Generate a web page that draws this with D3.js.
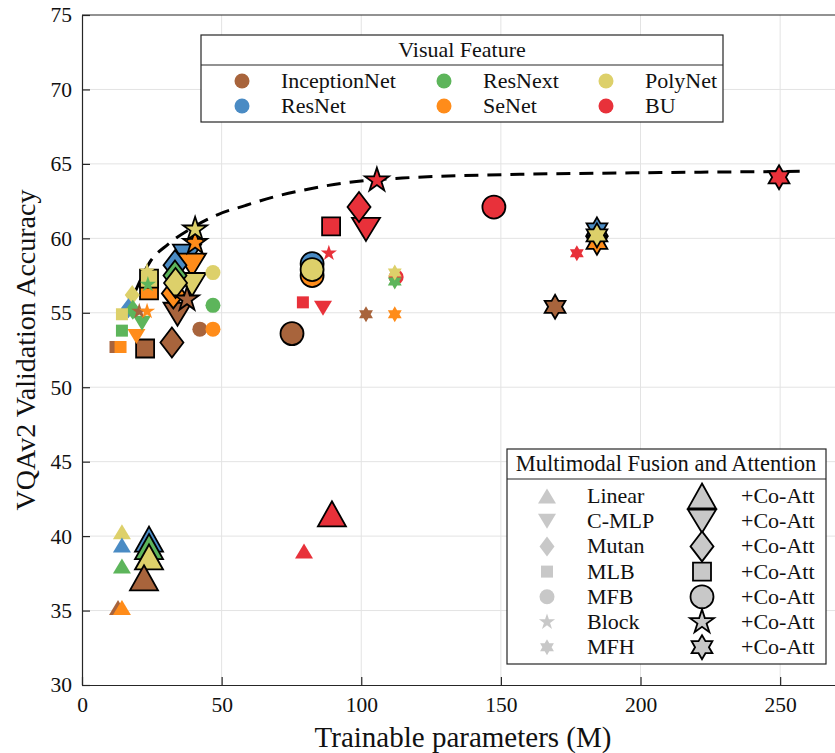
<!DOCTYPE html>
<html>
<head>
<meta charset="utf-8">
<script src="https://cdn.jsdelivr.net/npm/d3@7"></script>
<style>
  body { margin: 0; background: #fff; }
  svg text { font-family: "Liberation Serif", "Times New Roman", serif; fill: #111; }
</style>
</head>
<body>
<div id="chart"></div>
<script>
const WIDTH = 835, HEIGHT = 753;

const features = ["InceptionNet", "ResNet", "ResNext", "SeNet", "PolyNet", "BU"];
const featureColors = ["#A8643C", "#4A8BC4", "#5DB55B", "#FF8C1A", "#DDD06A", "#E8313A"];
const fusions = ["Linear", "C-MLP", "Mutan", "MLB", "MFB", "Block", "MFH"];

const xTicks = [0, 50, 100, 150, 200, 250];
const yTicks = [30, 35, 40, 45, 50, 55, 60, 65, 70, 75];

// [feature, trainable params (M), accuracy, co-attention]
const linear = [
  ["ResNet", 24, 39.8, 1], ["ResNext", 24, 39.3, 1], ["PolyNet", 24, 38.6, 1],
  ["InceptionNet", 22.2, 37.2, 1], ["BU", 89.5, 41.5, 1],
  ["PolyNet", 14.3, 40.3, 0], ["ResNet", 14.3, 39.4, 0], ["ResNext", 14.3, 38.0, 0],
  ["InceptionNet", 12.9, 35.2, 0], ["SeNet", 14.3, 35.2, 0], ["BU", 79.5, 39.0, 0]
];
const cmlp = [
  ["ResNet", 37.6, 58.8, 1], ["SeNet", 39.4, 58.2, 1], ["PolyNet", 39.4, 56.9, 1],
  ["InceptionNet", 34.2, 54.9, 1], ["BU", 101.7, 60.6, 1],
  ["SeNet", 19.5, 53.4, 0], ["ResNext", 21.5, 54.3, 0], ["BU", 86.3, 55.3, 0]
];
const mutan = [
  ["ResNet", 33.3, 58.2, 1], ["ResNext", 33.3, 57.5, 1], ["SeNet", 32.7, 56.3, 1],
  ["PolyNet", 33.5, 57.0, 1], ["InceptionNet", 32.2, 53.0, 1], ["BU", 99.2, 62.1, 1],
  ["PolyNet", 18.0, 56.2, 0], ["ResNet", 16.6, 55.3, 0], ["ResNext", 18.2, 55.2, 0]
];
const mlb = [
  ["SeNet", 24, 56.5, 1], ["PolyNet", 24, 57.3, 1],
  ["InceptionNet", 22.6, 52.6, 1], ["BU", 89.2, 60.8, 1],
  ["PolyNet", 14.3, 54.9, 0], ["ResNext", 14.3, 53.8, 0], ["InceptionNet", 12.0, 52.7, 0],
  ["SeNet", 13.8, 52.7, 0], ["BU", 79.1, 55.7, 0]
];
const mfb = [
  ["ResNet", 82.4, 58.3, 1], ["SeNet", 82.4, 57.5, 1], ["PolyNet", 82.4, 57.9, 1],
  ["InceptionNet", 75.2, 53.6, 1], ["BU", 147.5, 62.1, 1],
  ["PolyNet", 46.9, 57.7, 0], ["ResNext", 46.9, 55.5, 0], ["InceptionNet", 42.2, 53.9, 0],
  ["SeNet", 46.9, 53.9, 0], ["BU", 112.5, 57.4, 0]
];
const block = [
  ["BU", 105.6, 63.9, 1], ["SeNet", 40.5, 59.7, 1], ["PolyNet", 40.5, 60.6, 1],
  ["InceptionNet", 37.6, 55.9, 1],
  ["InceptionNet", 20.5, 55.1, 0], ["SeNet", 23.3, 55.1, 0], ["PolyNet", 23.3, 57.8, 0],
  ["ResNext", 23.6, 56.9, 0], ["BU", 88.4, 59.0, 0]
];
const mfh = [
  ["BU", 249.6, 64.1, 1], ["InceptionNet", 169.4, 55.4, 1], ["ResNet", 184.4, 60.6, 1],
  ["SeNet", 184.4, 59.7, 1], ["PolyNet", 184.4, 60.2, 1],
  ["InceptionNet", 101.7, 54.9, 0], ["SeNet", 112, 54.9, 0], ["ResNext", 112, 57.1, 0],
  ["PolyNet", 112, 57.7, 0], ["BU", 177.2, 59.0, 0]
];
const fusionData = [linear, cmlp, mutan, mlb, mfb, block, mfh];

// dashed trend
const trendParams = [19, 24.3, 30.8, 39.4, 48.7, 58.4, 69.1, 80.9, 93.1, 102.4, 114.6, 156.8, 198.7, 257];
const trendAcc = [56.4, 58.4, 59.6, 60.7, 61.6, 62.2, 62.8, 63.3, 63.7, 63.9, 64.05, 64.3, 64.4, 64.5];

// marker outlines, centred on 0,0
function starPath(R, r, n) {
  let p = [];
  for (let i = 0; i < 2 * n; i++) {
    const a = -Math.PI / 2 + i * Math.PI / n;
    const rad = i % 2 ? r : R;
    p.push([rad * Math.cos(a), rad * Math.sin(a)]);
  }
  return "M" + p.map(d => d.join(",")).join("L") + "Z";
}
function markerPath(fusion, big) {
  switch (fusion) {
    case "Linear": { const w = big ? 28 : 18, h = big ? 25 : 15;
      return `M0,${-h / 2}L${w / 2},${h / 2}L${-w / 2},${h / 2}Z`; }
    case "C-MLP": { const w = big ? 28 : 18, h = big ? 23 : 15;
      return `M0,${h / 2}L${w / 2},${-h / 2}L${-w / 2},${-h / 2}Z`; }
    case "Mutan": { const w = big ? 23 : 15, h = big ? 30 : 20;
      return `M0,${-h / 2}L${w / 2},0L0,${h / 2}L${-w / 2},0Z`; }
    case "MLB": { const s = big ? 9 : 6;
      return `M${-s},${-s}H${s}V${s}H${-s}Z`; }
    case "MFB": { const r = big ? 11.5 : 7.5;
      return `M${r},0A${r},${r} 0 1,1 ${-r},0A${r},${r} 0 1,1 ${r},0Z`; }
    case "Block": { const R = big ? 12.6 : 8.5; return starPath(R, R * 0.382, 5); }
    case "MFH": { const R = big ? 12 : 8; return starPath(R, R * 0.577, 6); }
  }
}

const svg = d3.select("#chart").append("svg")
  .attr("width", WIDTH).attr("height", HEIGHT);

const x = d3.scaleLinear().domain([0, 270]).range([82, 836]);
const y = d3.scaleLinear().domain([30, 75]).range([685, 15]);
const color = d3.scaleOrdinal().domain(features).range(featureColors);

// grid
svg.append("g").selectAll("line").data(xTicks.slice(1)).enter().append("line")
  .attr("x1", d => x(d)).attr("x2", d => x(d)).attr("y1", 15).attr("y2", 685)
  .attr("stroke", "#e3e3e3").attr("stroke-width", 1);
svg.append("g").selectAll("line").data(yTicks.slice(1, -1)).enter().append("line")
  .attr("x1", 82).attr("x2", 836).attr("y1", d => y(d)).attr("y2", d => y(d))
  .attr("stroke", "#e3e3e3").attr("stroke-width", 1);

// axes
const yAxis = svg.append("g").attr("transform", "translate(82,0)")
  .call(d3.axisLeft(y).tickValues(yTicks).tickSizeInner(-8).tickSizeOuter(0).tickPadding(10));
const xAxis = svg.append("g").attr("transform", "translate(0,685)")
  .call(d3.axisBottom(x).tickValues(xTicks).tickSizeInner(-8).tickSizeOuter(0).tickPadding(12));
[yAxis, xAxis].forEach(a => {
  a.selectAll("path, line").attr("stroke", "#262626").attr("stroke-width", 1.2);
  a.selectAll("text").attr("font-size", 21.5).attr("font-family", "Liberation Serif").attr("fill", "#111");
});
svg.append("line").attr("x1", 82).attr("x2", 836).attr("y1", 15).attr("y2", 15)
  .attr("stroke", "#262626").attr("stroke-width", 1.2);

svg.append("text").attr("x", 463).attr("y", 747).attr("text-anchor", "middle")
  .attr("font-size", 29).text("Trainable parameters (M)");
svg.append("text").attr("transform", "translate(35,350) rotate(-90)").attr("text-anchor", "middle")
  .attr("font-size", 28).text("VQAv2 Validation Accuracy");

// trend
const line = d3.line().x(d => x(d[0])).y(d => y(d[1])).curve(d3.curveMonotoneX);
svg.append("path").datum(trendParams.map((p, i) => [p, trendAcc[i]]))
  .attr("d", line).attr("fill", "none").attr("stroke", "#000")
  .attr("stroke-width", 3).attr("stroke-dasharray", "14,9");

// markers: co-attention (big) first, then plain ones
const all = [];
fusionData.forEach((arr, fi) => arr.forEach(d => all.push({ fusion: fusions[fi], feature: d[0], p: d[1], acc: d[2], co: d[3] })));
const ordered = all.filter(d => d.co).concat(all.filter(d => !d.co));
svg.append("g").selectAll("path").data(ordered).enter().append("path")
  .attr("transform", d => `translate(${x(d.p)},${y(d.acc)})`)
  .attr("d", d => markerPath(d.fusion, d.co))
  .attr("fill", d => color(d.feature))
  .attr("stroke", d => d.co ? "#000" : "none")
  .attr("stroke-width", 1.8).attr("stroke-linejoin", "miter");

// Visual Feature legend
const lg1 = svg.append("g");
lg1.append("rect").attr("x", 201).attr("y", 35).attr("width", 522).attr("height", 87)
  .attr("fill", "#fff").attr("stroke", "#262626").attr("stroke-width", 1.2);
lg1.append("line").attr("x1", 201).attr("x2", 723).attr("y1", 65).attr("y2", 65)
  .attr("stroke", "#262626").attr("stroke-width", 1.2);
lg1.append("text").attr("x", 462).attr("y", 57).attr("text-anchor", "middle")
  .attr("font-size", 22).text("Visual Feature");
const legendOrder = ["InceptionNet", "ResNext", "PolyNet", "ResNet", "SeNet", "BU"];
const colX = [242, 444, 606];
const lgItems = lg1.selectAll(".item").data(legendOrder).enter().append("g")
  .attr("transform", (d, i) => `translate(${colX[i % 3]},${i < 3 ? 81 : 106})`);
lgItems.append("circle").attr("r", 7.5).attr("fill", d => color(d));
lgItems.append("text").attr("x", 39).attr("y", 7).attr("font-size", 22).text(d => d);

// fusion legend
const lg2 = svg.append("g");
lg2.append("rect").attr("x", 507).attr("y", 449).attr("width", 319).attr("height", 215)
  .attr("fill", "#fff").attr("stroke", "#262626").attr("stroke-width", 1.2);
lg2.append("line").attr("x1", 507).attr("x2", 826).attr("y1", 479).attr("y2", 479)
  .attr("stroke", "#262626").attr("stroke-width", 1.2);
lg2.append("text").attr("x", 666).attr("y", 471).attr("text-anchor", "middle")
  .attr("font-size", 22.5).text("Multimodal Fusion and Attention");
const rows = lg2.selectAll(".row").data(fusions).enter().append("g")
  .attr("transform", (d, i) => `translate(0,${496 + i * 25.2})`);
rows.append("path").attr("transform", "translate(547,0)")
  .attr("d", d => markerPath(d, false)).attr("fill", "#c8c8c8");
rows.append("text").attr("x", 587).attr("y", 7).attr("font-size", 22).text(d => d);
rows.append("path").attr("transform", "translate(702,0)")
  .attr("d", d => markerPath(d, true)).attr("fill", "#c8c8c8")
  .attr("stroke", "#000").attr("stroke-width", 1.8);
rows.append("text").attr("x", 741).attr("y", 7).attr("font-size", 22).text("+Co-Att");
</script>
</body>
</html>
